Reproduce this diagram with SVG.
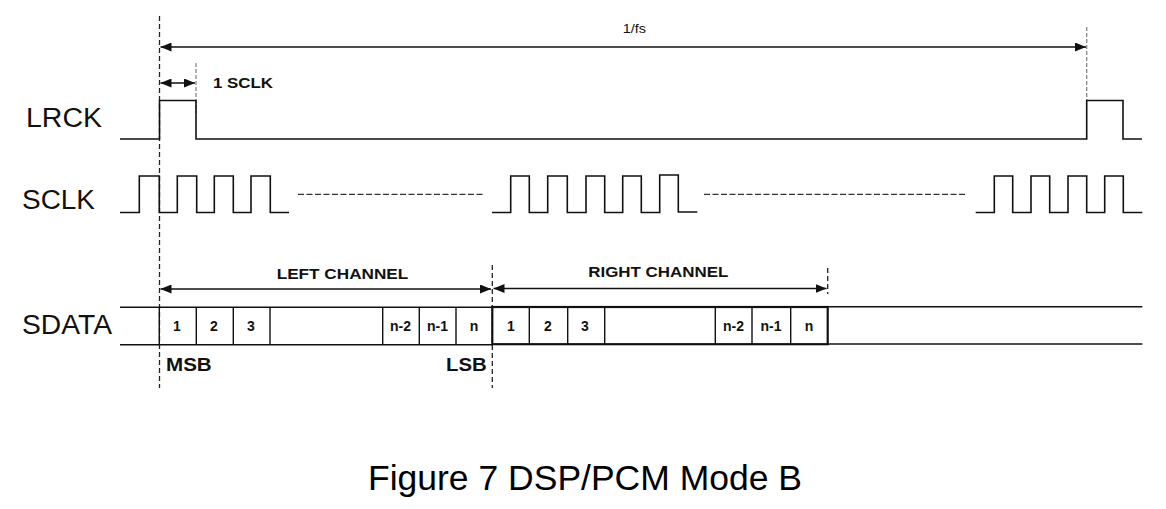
<svg xmlns="http://www.w3.org/2000/svg" width="1166" height="509" viewBox="0 0 1166 509">
<defs>
<marker id="ah" viewBox="0 0 11 9" refX="11" refY="4.5" markerWidth="11" markerHeight="9" markerUnits="userSpaceOnUse" orient="auto-start-reverse">
<path d="M0,0 L11,4.5 L0,9 Z" fill="#111"/>
</marker>
<style>
.w{fill:none;stroke:#111;stroke-width:1.6;stroke-linejoin:miter}
.d{fill:none;stroke:#222;stroke-width:1.3;stroke-dasharray:5,3}
.dg{fill:none;stroke:#888;stroke-width:1.3;stroke-dasharray:4,2}
.sd{fill:none;stroke:#333;stroke-width:1.3;stroke-dasharray:6,2.5}
.a{fill:none;stroke:#111;stroke-width:1.6;marker-start:url(#ah);marker-end:url(#ah)}
.sig{font-family:"Liberation Sans",Arial,sans-serif;font-size:27px;fill:#111}
.b{font-family:"Liberation Sans",Arial,sans-serif;font-weight:bold;fill:#111}
.c{font-family:"Liberation Sans",Arial,sans-serif;font-weight:bold;font-size:14px;fill:#111;text-anchor:middle}
.cell{fill:none;stroke:#111;stroke-width:1.4}
</style>
</defs>
<rect width="1166" height="509" fill="#fff"/>

<g id="labels">
<text class="sig" x="26" y="127" textLength="76" lengthAdjust="spacingAndGlyphs">LRCK</text>
<text class="sig" x="22" y="209" textLength="73" lengthAdjust="spacingAndGlyphs">SCLK</text>
<text class="sig" x="22" y="334" textLength="90" lengthAdjust="spacingAndGlyphs">SDATA</text>
</g>

<g id="guides">
<line class="d" x1="159.5" y1="16" x2="159.5" y2="388"/>
<line class="dg" x1="196" y1="63" x2="196" y2="113"/>
<line class="dg" x1="1086.7" y1="27" x2="1086.7" y2="101"/>
<line class="d" x1="492.3" y1="265" x2="492.3" y2="388"/>
<line class="d" x1="827.7" y1="268" x2="827.7" y2="294"/>
</g>

<g id="lrck">
<path class="w" d="M120,139 H159.5 V100.5 H196 V139 H1086.7 V100.5 H1123 V139 H1142"/>
</g>

<g id="sclk">
<path class="w" d="M120,212.5 H139.3 V176 H159.3 V212.5 H177.3 V176 H196.7 V212.5 H214.3 V176 H233.3 V212.5 H251 V176 H270.3 V212.5 H289"/>
<line class="sd" x1="298" y1="194.3" x2="483" y2="194.3"/>
<path class="w" d="M492,212.5 H510.7 V176 H529.3 V212.5 H547.7 V176 H567.3 V212.5 H586 V176 H604.7 V212.5 H622.7 V176 H641.3 V212.5 H659.7 V175 H678.3 V212 H697.3"/>
<line class="sd" x1="704" y1="194.3" x2="967" y2="194.3"/>
<path class="w" d="M975.7,212.5 H994.3 V176 H1012.7 V212.5 H1031 V176 H1049.7 V212.5 H1068 V176 H1086.7 V212.5 H1104.7 V176 H1123.3 V212.5 H1142.3"/>
</g>

<g id="sdata">
<line class="w" x1="120" y1="307.3" x2="492.3" y2="307.3"/>
<line class="w" x1="120" y1="344.7" x2="492.3" y2="344.7"/>
<line class="w" x1="827.7" y1="306.7" x2="1142.3" y2="306.7"/>
<line class="w" x1="827.7" y1="344" x2="1142.3" y2="344"/>
</g>

<g id="left-channel">
<path class="cell" d="M159.3,307.3 V344.7 M196.3,307.3 V344.7 M233.3,307.3 V344.7 M270,307.3 V344.7 M382.7,307.3 V344.7 M419.3,307.3 V344.7 M456,307.3 V344.7"/>
<text class="c" x="177" y="330.5">1</text>
<text class="c" x="214" y="330.5">2</text>
<text class="c" x="251" y="330.5">3</text>
<text class="c" x="400.5" y="330.5">n-2</text>
<text class="c" x="437.5" y="330.5">n-1</text>
<text class="c" x="474" y="330.5">n</text>
<text class="b" x="276.7" y="279" font-size="15" textLength="131.6" lengthAdjust="spacingAndGlyphs">LEFT CHANNEL</text>
<text class="b" x="166" y="370.7" font-size="19" textLength="45.7" lengthAdjust="spacingAndGlyphs">MSB</text>
<text class="b" x="446" y="370.7" font-size="19" textLength="40.7" lengthAdjust="spacingAndGlyphs">LSB</text>
</g>

<g id="right-channel">
<rect x="492.3" y="307" width="335.4" height="37.2" fill="none" stroke="#111" stroke-width="2.2"/>
<path class="cell" d="M529.3,307 V344.2 M567.7,307 V344.2 M604.7,307 V344.2 M715.3,307 V344.2 M752,307 V344.2 M790.7,307 V344.2"/>
<text class="c" x="511" y="330.5">1</text>
<text class="c" x="548" y="330.5">2</text>
<text class="c" x="585" y="330.5">3</text>
<text class="c" x="733.5" y="330.5">n-2</text>
<text class="c" x="771" y="330.5">n-1</text>
<text class="c" x="809" y="330.5">n</text>
<text class="b" x="588.3" y="277.3" font-size="15" textLength="140" lengthAdjust="spacingAndGlyphs">RIGHT CHANNEL</text>
</g>

<g id="connectors">
<line class="a" x1="160.5" y1="47" x2="1086" y2="47"/>
<line class="a" x1="160.5" y1="83" x2="195" y2="83"/>
<line class="a" x1="160.5" y1="289" x2="491" y2="289"/>
<line class="a" x1="493.5" y1="288.5" x2="826.5" y2="288.5"/>
</g>

<g id="annotations">
<text font-family="Liberation Sans, Arial, sans-serif" font-size="13.5" fill="#111" x="622.7" y="33.3" textLength="23.3" lengthAdjust="spacingAndGlyphs">1/fs</text>
<text class="b" x="213" y="88.3" font-size="15" textLength="60" lengthAdjust="spacingAndGlyphs">1 SCLK</text>
</g>

<g id="caption">
<text font-family="Liberation Sans, Arial, sans-serif" font-size="35.5" fill="#000" x="368" y="490" textLength="434" lengthAdjust="spacingAndGlyphs">Figure 7 DSP/PCM Mode B</text>
</g>
</svg>
